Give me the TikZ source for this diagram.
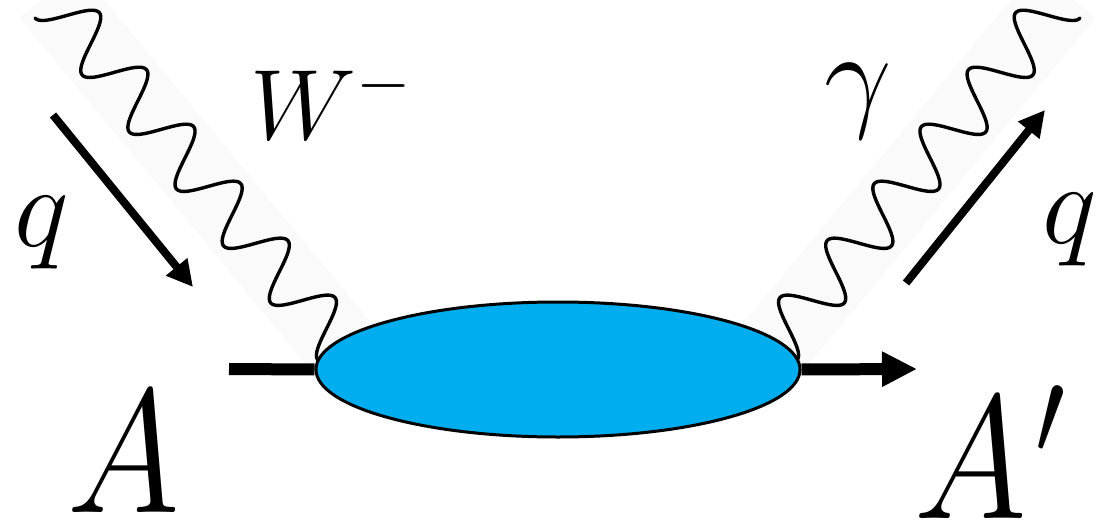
\documentclass[tikz,border=0pt]{standalone}
\usepackage{fix-cm}
\usetikzlibrary{arrows.meta,shapes.geometric}
\definecolor{blobc}{HTML}{00AEEF}
\begin{document}
\begin{tikzpicture}[x=0.5pt,y=-0.5pt,
  band/.style={fill=black!2,draw=none},
  wave/.style={line width=1.7pt,line join=round,line cap=round},
  mom/.style={line width=4pt,-{Triangle[length=13pt,width=13pt]}},
  ext/.style={line width=6pt},
  blobstyle/.style={ellipse,draw,line width=1.5pt,fill=blobc,inner sep=0pt,
     minimum width=242pt,minimum height=67.5pt},
  lbl/.style={inner sep=0pt}]
\useasboundingbox (0,0) rectangle (1111,523);
% shadow bands behind the wavy lines
\fill[band] (19.4,17.9) -- (312.4,372.1) -- (371.7,323.1) -- (78.7,-31.1) -- cycle;
\fill[band] (1095.6,17.9) -- (802.6,372.1) -- (743.3,323.1) -- (1036.3,-31.1) -- cycle;
% wavy boson lines
\draw[wave] plot[domain=0:444,samples=300,smooth]
  ({35+0.637*\x+20.405*(1-cos(4.86486*\x))},{18+0.770*\x-16.88*(1-cos(4.86486*\x))});
\draw[wave] plot[domain=0:444,samples=300,smooth]
  ({1080-0.637*\x-20.405*(1-cos(4.86486*\x))},{18+0.770*\x-16.88*(1-cos(4.86486*\x))});
% blob
\node[blobstyle] (blob) at (558,369.5) {};
% external lines
\coordinate (Ain) at (229,369);
\coordinate (Aout) at (917,369);
\draw[ext] (Ain) -- (blob.west);
\draw[ext,-{Triangle[length=17.5pt,width=16.5pt]}] (blob.east) -- (Aout);
% momentum arrows
\coordinate (qLa) at (53,115);
\coordinate (qLb) at (193,287);
\coordinate (qRa) at (906,283);
\coordinate (qRb) at (1045,110);
\draw[mom] (qLa) -- (qLb);
\draw[mom] (qRa) -- (qRb);
% labels
\node[lbl,font=\fontsize{58}{60}\selectfont] (qL) at (42,233) {$q$};
\node[lbl,font=\fontsize{58}{60}\selectfont] (qR) at (1070,230) {$q$};
\node[lbl,anchor=base west,font=\fontsize{50}{52}\selectfont] (W) at (250,140) {$W^-$};
\node[lbl,font=\fontsize{60}{62}\selectfont] (g) at (858,101) {$\gamma$};
\node[lbl,anchor=base,xscale=0.87,font=\fontsize{88}{90}\selectfont] (A) at (124,512) {$A$};
\node[lbl,anchor=base west,xscale=0.87,font=\fontsize{88}{90}\selectfont] (Ap) at (914,518) {$A\kern0.06em'$};
\end{tikzpicture}
\end{document}
